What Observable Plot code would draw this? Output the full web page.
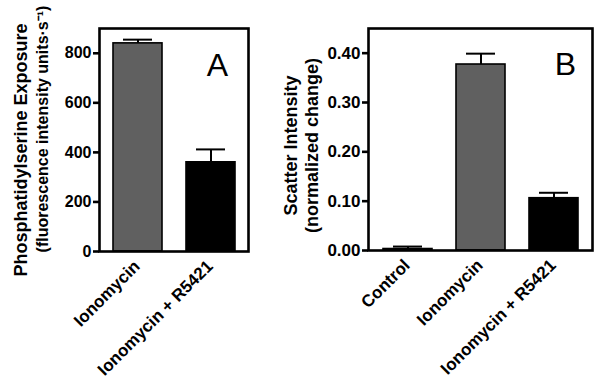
<!DOCTYPE html>
<html>
<head>
<meta charset="utf-8">
<script src="https://cdn.jsdelivr.net/npm/d3@7"></script>
<script src="https://cdn.jsdelivr.net/npm/@observablehq/plot@0.6"></script>
<style>
  html, body { margin: 0; padding: 0; background: #fff; }
  #wrap { display: flex; width: 600px; height: 380px; }
  svg { overflow: visible; }
</style>
</head>
<body>
<div id="wrap"></div>
<script>
// Panel A data
const catsA = ["Ionomycin", "Ionomycin + R5421"];
const valuesA = [840, 360];
const errorsA = [15, 52];
const ticksA = [0, 200, 400, 600, 800];
const titleA1 = "Phosphatidylserine Exposure";
const titleA2 = "(fluorescence intensity units·s⁻¹)";
const letterA = "A";

// Panel B data
const catsB = ["Control", "Ionomycin", "Ionomycin + R5421"];
const valuesB = [0.003, 0.377, 0.106];
const errorsB = [0.005, 0.022, 0.011];
const ticksB = [0, 0.1, 0.2, 0.3, 0.4];
const titleB1 = "Scatter Intensity";
const titleB2 = "(normalized change)";
const letterB = "B";

const font = "'Liberation Sans', Arial, Helvetica, sans-serif";

function panel({cats, values, errors, ticks, yMax, fmt, colors, width, mL, mR, mB, tickFs, t1, t2, t1pos, t2pos, letter, letterPos}) {
  const rows = cats.map((c, i) => ({cat: c, v: values[i], e: errors[i], top: values[i] + errors[i]}));
  return Plot.plot({
    width, height: 380,
    marginLeft: mL, marginRight: mR, marginTop: 28, marginBottom: mB,
    style: {fontFamily: font, fontWeight: "bold", fontSize: "16px", color: "#000", background: "#fff"},
    x: {domain: cats, paddingInner: 0.33, paddingOuter: 0.18},
    y: {domain: [0, yMax]},
    color: {domain: cats, range: colors},
    marks: [
      Plot.barY(rows, {x: "cat", y: "v", fill: "cat", stroke: "#000", strokeWidth: 1.6}),
      Plot.ruleX(rows, {x: "cat", y1: "v", y2: "top", stroke: "#000", strokeWidth: 2}),
      Plot.tickY(rows, {x: "cat", y: "top", stroke: "#000", strokeWidth: 2, insetLeft: 10, insetRight: 10}),
      Plot.frame({stroke: "#000", strokeWidth: 2.6}),
      Plot.axisY({ticks, tickFormat: fmt, tickSize: 6, tickPadding: 2, strokeWidth: 2.6, label: null, fontSize: tickFs, fontWeight: "bold"}),
      Plot.axisX({tickRotate: -45, tickSize: 0, tickPadding: 8, label: null, fontSize: 17, fontWeight: "bold", dx: -1, dy: 4}),
      Plot.text([t1], {frameAnchor: "left", textAnchor: "middle", lineAnchor: "middle", text: d => d, rotate: -90, dx: t1pos[0], dy: t1pos[1], fontSize: t1pos[2], fontWeight: "bold"}),
      Plot.text([t2], {frameAnchor: "left", textAnchor: "middle", lineAnchor: "middle", text: d => d, rotate: -90, dx: t2pos[0], dy: t2pos[1], fontSize: t2pos[2], fontWeight: "bold"}),
      Plot.text([letter], {frameAnchor: "top-right", textAnchor: "middle", lineAnchor: "middle", text: d => d, dx: letterPos[0], dy: letterPos[1], fontSize: 32, fontWeight: "normal"})
    ]
  });
}

const wrap = document.getElementById("wrap");
wrap.appendChild(panel({
  cats: catsA, values: valuesA, errors: errorsA, ticks: ticksA, yMax: 900, fmt: d3.format("d"),
  colors: ["#606060", "#000000"], width: 280, mL: 99, mR: 32, mB: 129, tickFs: 16,
  t1: titleA1, t2: titleA2, t1pos: [-78, 10, 18], t2pos: [-57, -11, 16],
  letter: letterA, letterPos: [-31, 37]
}));
wrap.appendChild(panel({
  cats: catsB, values: valuesB, errors: errorsB, ticks: ticksB, yMax: 0.45, fmt: d3.format(".2f"),
  colors: ["#ffffff", "#606060", "#000000"], width: 320, mL: 88, mR: 8, mB: 130, tickFs: 17,
  t1: titleB1, t2: titleB2, t1pos: [-77, 6, 18], t2pos: [-56, 6, 18],
  letter: letterB, letterPos: [-27, 36]
}));
</script>
</body>
</html>
